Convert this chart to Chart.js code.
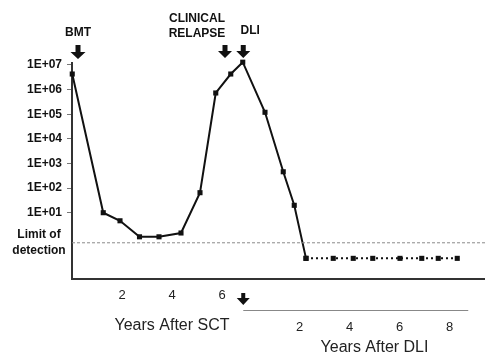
<!DOCTYPE html>
<html>
<head>
<meta charset="utf-8">
<script src="https://cdn.jsdelivr.net/npm/chart.js@4/dist/chart.umd.min.js"></script>
<style>
  html, body { margin: 0; padding: 0; background: #fff; }
  canvas { display: block; }
</style>
</head>
<body>
<canvas id="c" width="485" height="356"></canvas>
<script>
// Tumour burden (copies) over time, log scale
const sctYears = [0.01, 1.25, 1.92, 2.70, 3.48, 4.36, 5.12, 5.75, 6.35, 6.83, 7.72, 8.45, 8.89, 9.36];
const copies   = [4.3e6, 1.0e1, 4.7, 1.05, 1.05, 1.5, 6.5e1, 7.3e5, 4.3e6, 1.3e7, 1.2e5, 4.6e2, 2.0e1, 0.14];

// Follow-up samples below the limit of detection
const followYears  = [9.36, 10.45, 11.25, 12.03, 13.12, 13.99, 14.65, 15.41];
const followCopies = [0.14, 0.14, 0.14, 0.14, 0.14, 0.14, 0.14, 0.14];

const limitOfDetection = 0.6;

const yTicks   = [1e1, 1e2, 1e3, 1e4, 1e5, 1e6, 1e7];
const sctTicks = [2, 4, 6];
const dliTicks = [2, 4, 6, 8];
const dliStart = 7.1;          // DLI given this many years after SCT

const eventNames = ['BMT', 'CLINICAL RELAPSE', 'DLI'];
const eventYears = [0.24, 6.12, 6.85];

const FONT = '"Liberation Sans", Arial, Helvetica, sans-serif';
const X_MAX = 16.52;

function expLabel(v) {
  const e = Math.round(Math.log10(v));
  return '1E' + (e < 0 ? '-' : '+') + String(Math.abs(e)).padStart(2, '0');
}

function downArrow(ctx, cx, top, shaftW, shaftH, headW, headH) {
  ctx.beginPath();
  ctx.moveTo(cx - shaftW / 2, top);
  ctx.lineTo(cx + shaftW / 2, top);
  ctx.lineTo(cx + shaftW / 2, top + shaftH);
  ctx.lineTo(cx + headW / 2, top + shaftH);
  ctx.lineTo(cx, top + shaftH + headH);
  ctx.lineTo(cx - headW / 2, top + shaftH);
  ctx.lineTo(cx - shaftW / 2, top + shaftH);
  ctx.closePath();
  ctx.fill();
}

const annotations = {
  id: 'annotations',
  afterDraw(chart) {
    const ctx = chart.ctx;
    const x = chart.scales.x, x2 = chart.scales.x2, y = chart.scales.y;
    ctx.save();
    ctx.fillStyle = '#111';
    ctx.textAlign = 'center';
    ctx.textBaseline = 'middle';
    ctx.font = 'bold 12px ' + FONT;

    // event markers above the plot
    const bx = x.getPixelForValue(eventYears[0]);
    ctx.fillText(eventNames[0], bx, 33);
    downArrow(ctx, bx, 45, 5, 7, 15, 7);

    const rx = x.getPixelForValue(eventYears[1]);
    const words = eventNames[1].split(' ');
    ctx.fillText(words[0], rx - 28, 19);
    ctx.fillText(words[1], rx - 28, 34);
    downArrow(ctx, rx, 45, 5, 6, 14, 7);

    const dx = x.getPixelForValue(eventYears[2]);
    ctx.fillText(eventNames[2], dx + 7, 31);
    downArrow(ctx, dx, 45, 5, 6, 14, 7);

    // limit of detection label
    const ly = y.getPixelForValue(limitOfDetection);
    ctx.fillText('Limit of', 39, ly - 8);
    ctx.fillText('detection', 39, ly + 8);

    // DLI time axis: marker arrow and baseline
    downArrow(ctx, dx, 293, 4, 5, 13, 7);
    ctx.strokeStyle = '#888';
    ctx.lineWidth = 1;
    ctx.beginPath();
    ctx.moveTo(dx, x2.top + 0.5);
    ctx.lineTo(x2.getPixelForValue(8.75), x2.top + 0.5);
    ctx.stroke();

    // axis titles
    ctx.font = '16px ' + FONT;
    ctx.fillStyle = '#222';
    ctx.fillText('Years After SCT', x.getPixelForValue(4), 326);
    ctx.fillText('Years After DLI', x2.getPixelForValue(5), 348);
    ctx.restore();
  }
};

const toPoints = (xs, ys) => xs.map((v, i) => ({ x: v, y: ys[i] }));

new Chart(document.getElementById('c'), {
  type: 'line',
  data: {
    datasets: [
      {
        data: toPoints([0, X_MAX], [limitOfDetection, limitOfDetection]),
        borderColor: '#8a8a8a', borderWidth: 1, borderDash: [3, 2],
        pointRadius: 0, clip: false
      },
      {
        data: toPoints(sctYears, copies),
        borderColor: '#111', borderWidth: 2,
        pointStyle: 'rect', pointRadius: 3.6,
        pointBackgroundColor: '#111', pointBorderColor: '#111', pointBorderWidth: 0,
        clip: false, tension: 0
      },
      {
        data: toPoints(followYears, followCopies),
        borderColor: '#111', borderWidth: 2, borderDash: [2, 3],
        pointStyle: 'rect', pointRadius: 3.6,
        pointBackgroundColor: '#111', pointBorderColor: '#111', pointBorderWidth: 0,
        clip: false, tension: 0
      }
    ]
  },
  options: {
    responsive: false,
    animation: false,
    events: [],
    layout: { autoPadding: false, padding: { top: 63, right: 0, bottom: 0, left: 0 } },
    plugins: { legend: { display: false }, tooltip: { enabled: false } },
    scales: {
      x: {
        type: 'linear', position: 'bottom', weight: 0,
        min: 0, max: X_MAX,
        afterBuildTicks: s => { s.ticks = sctTicks.map(v => ({ value: v })); },
        afterFit: s => { s.height = 31; },
        grid: { display: false, drawTicks: false },
        border: { display: true, color: '#333', width: 2 },
        ticks: { font: { size: 13, family: FONT }, color: '#222', padding: 9, maxRotation: 0,
                 callback: v => String(v) }
      },
      x2: {
        type: 'linear', position: 'bottom', weight: 1,
        min: -dliStart, max: X_MAX - dliStart,
        afterBuildTicks: s => { s.ticks = dliTicks.map(v => ({ value: v })); },
        afterFit: s => { s.height = 46; },
        grid: { display: false, drawTicks: false },
        border: { display: false },
        ticks: { font: { size: 13, family: FONT }, color: '#222', padding: 10, maxRotation: 0,
                 callback: v => String(v) }
      },
      y: {
        type: 'logarithmic', position: 'left',
        min: 0.0203, max: 1.205e7,
        afterBuildTicks: s => { s.ticks = yTicks.map(v => ({ value: v })); },
        afterFit: s => { s.width = 72; },
        grid: { drawOnChartArea: false, drawTicks: true, tickLength: 5, color: '#777', lineWidth: 1 },
        border: { display: true, color: '#333', width: 2 },
        ticks: { font: { size: 12, weight: 'bold', family: FONT }, color: '#111', padding: 5,
                 callback: v => expLabel(v) }
      }
    }
  },
  plugins: [annotations]
});
</script>
</body>
</html>
